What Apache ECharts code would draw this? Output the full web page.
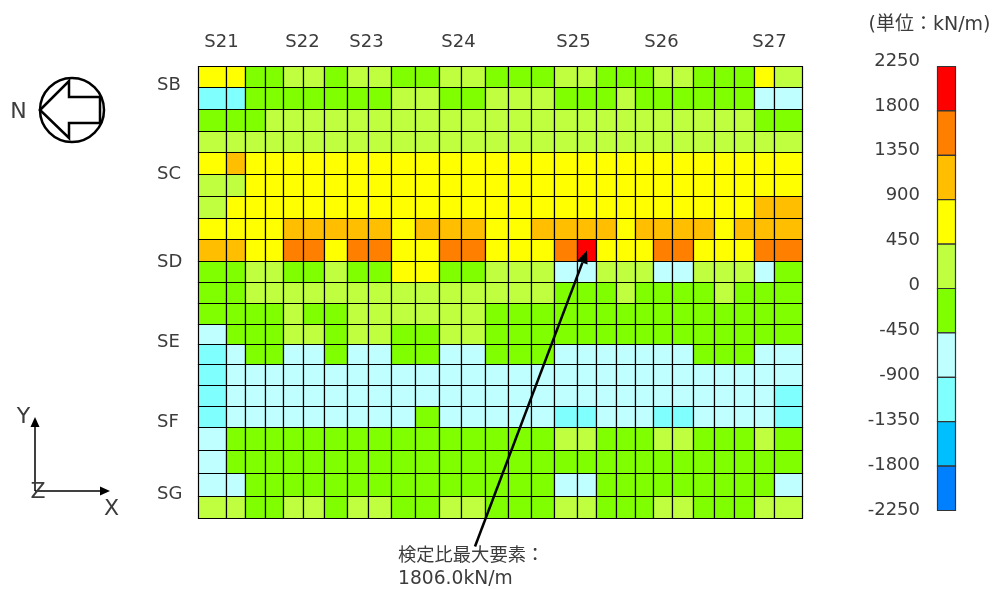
<!DOCTYPE html>
<html>
<head>
<meta charset="utf-8">
<style>html,body{margin:0;padding:0;background:#fff}#c{width:998px;height:589px}</style>
<script src="https://cdn.jsdelivr.net/npm/echarts@6/dist/echarts.min.js"></script>
</head>
<body>
<div id="c"></div>
<script>
// Element widths (along X) and heights (along Y), in axis units
const elementWidths = [28,19,20,18,20,21,23,21,23,24,24,22,24,23,23,23,23,19,20,19,18,19,21,21,20,20,20,28];
const elementHeights = [21,22,22,21,22,22,22,21,22,21,21,21,20,20,21,21,21,23,23,23,22];

const columnLabels = ['S21','S22','S23','S24','S25','S26','S27'];
const columnLabelAt = [23,104,168,260,375,463,571];
const rowLabels = ['SB','SC','SD','SE','SF','SG'];
const rowLabelAt = [19,108,196,276,356,428];

const legendTicks = [2250,1800,1350,900,450,0,-450,-900,-1350,-1800,-2250];
const legendColors = ['#ff0000','#ff8000','#ffbf00','#ffff00','#bfff40','#80ff00','#bfffff','#80ffff','#00bfff','#0080ff'];

// Section force per element (kN/m), read from the colour bands
const values = [
[675,675,-225,-225,225,225,-225,225,225,-225,-225,225,225,-225,-225,-225,225,225,-225,-225,-225,225,225,-225,-225,-225,675,225],
[-1125,-1125,-225,-225,-225,-225,-225,-225,-225,225,225,-225,-225,225,225,225,-225,-225,-225,225,-225,-225,-225,-225,-225,-225,-675,-675],
[-225,-225,-225,225,225,225,225,225,225,225,225,225,225,225,225,225,225,225,225,225,225,225,225,225,225,225,-225,-225],
[225,225,225,225,225,225,225,225,225,225,225,225,225,225,225,225,225,225,225,225,225,225,225,225,225,225,225,225],
[675,1125,675,675,675,675,675,675,675,675,675,675,675,675,675,675,675,675,675,675,675,675,675,675,675,675,675,675],
[225,225,675,675,675,675,675,675,675,675,675,675,675,675,675,675,675,675,675,675,675,675,675,675,675,675,675,675],
[225,675,675,675,675,675,675,675,675,675,675,675,675,675,675,675,675,675,675,675,675,675,675,675,675,675,1125,1125],
[675,675,675,675,1125,1125,1125,1125,1125,675,1125,1125,1125,675,675,1125,1125,1125,1125,675,1125,1125,1125,1125,675,1125,1125,1125],
[1125,1125,675,675,1575,1575,675,1575,1575,675,675,1575,1575,675,675,675,1575,1806,675,675,675,1575,1575,675,675,675,1575,1575],
[-225,-225,225,225,-225,-225,225,-225,-225,675,675,-225,-225,225,225,225,-675,-675,225,225,225,-675,-675,225,225,225,-675,-225],
[-225,-225,225,225,225,225,225,225,225,225,225,225,225,225,225,225,-225,-225,-225,225,-225,-225,-225,-225,225,-225,-225,-225],
[-225,-225,-225,-225,225,-225,-225,225,225,225,225,225,225,-225,-225,-225,-225,-225,-225,-225,-225,-225,-225,-225,-225,-225,-225,-225],
[-675,-225,-225,-225,225,225,-225,225,225,-225,-225,225,225,-225,-225,-225,-225,-225,-225,-225,-225,-225,-225,-225,-225,-225,-225,-225],
[-1125,-675,-225,-225,-675,-675,-225,-675,-675,-225,-225,-675,-675,-225,-225,-225,-675,-675,-675,-675,-675,-675,-675,-225,-225,-225,-675,-675],
[-1125,-675,-675,-675,-675,-675,-675,-675,-675,-675,-675,-675,-675,-675,-675,-675,-675,-675,-675,-675,-675,-675,-675,-675,-675,-675,-675,-675],
[-1125,-675,-675,-675,-675,-675,-675,-675,-675,-675,-675,-675,-675,-675,-675,-675,-675,-675,-675,-675,-675,-675,-675,-675,-675,-675,-675,-1125],
[-1125,-675,-675,-675,-675,-675,-675,-675,-675,-675,-225,-675,-675,-675,-675,-675,-1125,-1125,-675,-675,-675,-1125,-1125,-675,-675,-675,-675,-1125],
[-675,-225,-225,-225,-225,-225,-225,-225,-225,-225,-225,-225,-225,-225,-225,-225,225,225,-225,-225,-225,225,225,-225,-225,-225,225,-225],
[-675,-225,-225,-225,-225,-225,-225,-225,-225,-225,-225,-225,-225,-225,-225,-225,-225,-225,-225,-225,-225,-225,-225,-225,-225,-225,-225,-225],
[-675,-675,-225,-225,-225,-225,-225,-225,-225,-225,-225,-225,-225,-225,-225,-225,-675,-675,-225,-225,-225,-225,-225,-225,-225,-225,-225,-675],
[225,225,-225,-225,225,225,-225,225,225,-225,-225,225,225,-225,-225,-225,225,225,-225,-225,-225,225,225,-225,-225,-225,225,225]
];

const peakValue = 1806.0;
const peakTitle = '検定比最大要素：';
const peakText = peakValue.toFixed(1) + 'kN/m';
const unitText = '(単位：kN/m)';

const font = '"DejaVu Sans","Noto Sans CJK JP",sans-serif';
const textColor = '#3c3c3c';

function colorOf(v) {
  for (let i = 0; i < legendColors.length; i++) {
    if (v >= legendTicks[i + 1]) return legendColors[i];
  }
  return legendColors[legendColors.length - 1];
}
function edges(sizes) {
  const e = [0];
  sizes.forEach(s => e.push(e[e.length - 1] + s));
  return e;
}
const xEdges = edges(elementWidths);
const yEdges = edges(elementHeights);

const cells = [];
let peakCell = null;
values.forEach((row, r) => row.forEach((v, c) => {
  cells.push([xEdges[c], xEdges[c + 1], yEdges[r], yEdges[r + 1], v]);
  if (v === peakValue) peakCell = [(xEdges[c] + xEdges[c + 1]) / 2, (yEdges[r] + yEdges[r + 1]) / 2];
}));
const legendCells = legendColors.map((col, i) => [legendTicks[i + 1], legendTicks[i]]);

function rectItem(p0, p1, fill, stroke, w) {
  return {
    type: 'rect',
    shape: { x: p0[0], y: p0[1], width: p1[0] - p0[0], height: p1[1] - p0[1] },
    style: { fill: fill, stroke: stroke, lineWidth: w }
  };
}

const chart = echarts.init(document.getElementById('c'), null, { renderer: 'canvas' });
chart.setOption({
  animation: false,
  backgroundColor: '#fff',
  grid: [
    { left: 198.5, top: 66.5, width: 604, height: 452 },
    { left: 937.5, top: 66.5, width: 18, height: 444 },
    { left: 920, top: 61, width: 10, height: 449 }
  ],
  xAxis: [
    {
      gridIndex: 0, type: 'value', position: 'top', min: 0, max: xEdges[xEdges.length - 1],
      axisLine: { show: false }, axisTick: { show: false }, splitLine: { show: false },
      axisLabel: {
        show: true, customValues: columnLabelAt, margin: 15,
        formatter: v => columnLabels[columnLabelAt.indexOf(v)] || '',
        fontFamily: font, fontSize: 18, color: textColor
      }
    },
    { gridIndex: 1, type: 'value', min: 0, max: 1, show: false },
    { gridIndex: 2, type: 'value', min: 0, max: 1, show: false }
  ],
  yAxis: [
    {
      gridIndex: 0, type: 'value', inverse: true, min: 0, max: yEdges[yEdges.length - 1],
      axisLine: { show: false }, axisTick: { show: false }, splitLine: { show: false },
      axisLabel: {
        show: true, customValues: rowLabelAt, margin: 41.5, align: 'left',
        formatter: v => rowLabels[rowLabelAt.indexOf(v)] || '',
        fontFamily: font, fontSize: 18, color: textColor
      }
    },
    { gridIndex: 1, type: 'value', min: -2250, max: 2250, interval: 450, show: false },
    {
      gridIndex: 2, type: 'value', min: -2250, max: 2250, interval: 450,
      axisLine: { show: false }, axisTick: { show: false }, splitLine: { show: false },
      axisLabel: { show: true, margin: 0, formatter: v => String(v), fontFamily: font, fontSize: 18, color: textColor }
    }
  ],
  series: [
    {
      type: 'custom', xAxisIndex: 0, yAxisIndex: 0, silent: true,
      data: cells,
      renderItem: (params, api) => rectItem(
        api.coord([api.value(0), api.value(2)]),
        api.coord([api.value(1), api.value(3)]),
        colorOf(api.value(4)), '#000', 1.2)
    },
    {
      type: 'custom', xAxisIndex: 1, yAxisIndex: 1, silent: true,
      data: legendCells,
      renderItem: (params, api) => rectItem(
        api.coord([0, api.value(1)]),
        api.coord([1, api.value(0)]),
        legendColors[params.dataIndex], '#333', 1.2)
    }
  ]
});

// Annotation pointer aims at the peak element; the other elements are page furniture
const tip = chart.convertToPixel({ xAxisIndex: 0, yAxisIndex: 0 }, peakCell);
const tail = [tip[0] - 112, tip[1] + 296];
const ang = Math.atan2(tip[1] - tail[1], tip[0] - tail[0]);
const hl = 13, hw = 5.5;
const bx = tip[0] - hl * Math.cos(ang), by = tip[1] - hl * Math.sin(ang);
const nx = -Math.sin(ang) * hw, ny = Math.cos(ang) * hw;

function txt(x, y, text, size, align) {
  return { type: 'text', x: x, y: y, z: 100, silent: true, style: {
    text: text, fontFamily: font, fontSize: size, fill: textColor,
    align: align || 'center', verticalAlign: 'middle' } };
}
function line(x1, y1, x2, y2, w) {
  return { type: 'line', z: 100, silent: true, shape: { x1, y1, x2, y2 }, style: { stroke: '#000', lineWidth: w } };
}
function poly(points, fill, stroke, w) {
  return { type: 'polygon', z: 100, silent: true, shape: { points }, style: { fill, stroke: stroke || null, lineWidth: w || 0 } };
}
chart.setOption({ graphic: { elements: [
  line(tail[0], tail[1], bx, by, 2.5),
  poly([tip, [bx + nx, by + ny], [bx - nx, by - ny]], '#000'),
  txt(398, 556, peakTitle, 18.3, 'left'),
  txt(398, 579, peakText, 18.7, 'left'),
  txt(929.5, 25, unitText, 19, 'center'),
  // compass
  { type: 'circle', z: 100, silent: true, shape: { cx: 72, cy: 110, r: 32 }, style: { fill: 'none', stroke: '#000', lineWidth: 2.5 } },
  poly([[40,110],[69,81],[69,97],[100,97],[100,123],[69,123],[69,138]], '#fff', '#000', 2.5),
  txt(18.5, 112, 'N', 22),
  // global axes
  line(35, 491, 35, 425, 1.5),
  poly([[35,417],[30.5,427],[39.5,427]], '#000'),
  line(35, 491, 102, 491, 1.5),
  poly([[110,491],[100,486.5],[100,495.5]], '#000'),
  txt(23.5, 417, 'Y', 22),
  txt(38, 492, 'Z', 22),
  txt(111.5, 509, 'X', 22)
] } });
</script>
</body>
</html>
